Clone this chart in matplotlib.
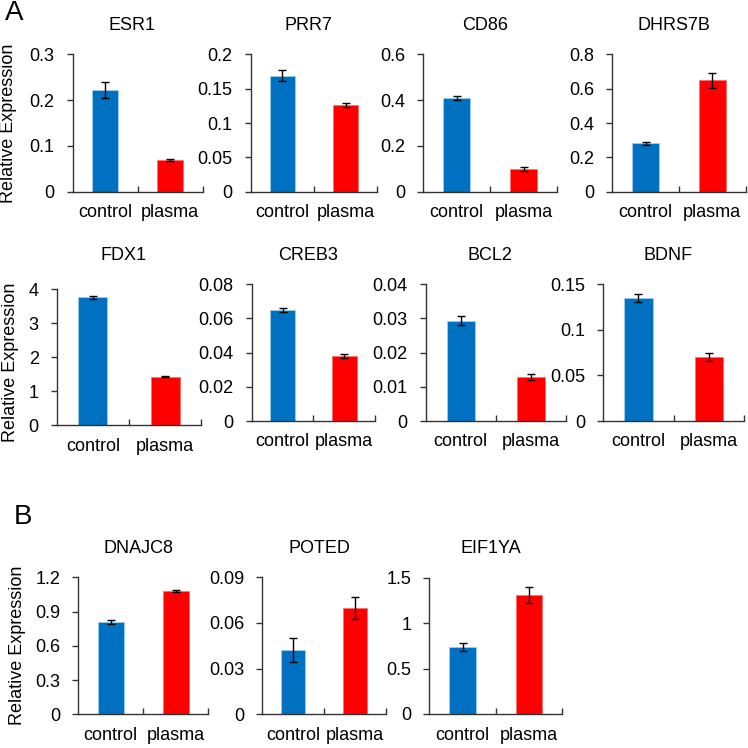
import matplotlib
matplotlib.use("Agg")
import matplotlib.pyplot as plt
import numpy as np

plt.rcParams['font.family'] = ['Liberation Sans', 'DejaVu Sans']

# values
genes = ['ESR1', 'PRR7', 'CD86', 'DHRS7B', 'FDX1', 'CREB3', 'BCL2', 'BDNF',
         'DNAJC8', 'POTED', 'EIF1YA']
groups = ['control', 'plasma']
control = [0.222, 0.169, 0.41, 0.282, 3.755, 0.065, 0.0294, 0.1347, 0.811, 0.0422, 0.737]
plasma = [0.069, 0.1266, 0.099, 0.650, 1.42, 0.038, 0.0129, 0.0703, 1.08, 0.0698, 1.31]
control_err = [0.018, 0.008, 0.008, 0.01, 0.04, 0.001, 0.0014, 0.0042, 0.0175, 0.008, 0.046]
plasma_err = [0.002, 0.003, 0.007, 0.044, 0.02, 0.0013, 0.0008, 0.0042, 0.012, 0.0072, 0.083]
ymax = [0.3, 0.2, 0.6, 0.8, 4, 0.08, 0.04, 0.15, 1.2, 0.09, 1.5]
ystep = [0.1, 0.05, 0.2, 0.2, 1, 0.02, 0.01, 0.05, 0.3, 0.03, 0.5]

W = 748.0
# axes boxes in pixels: left, right, top, bottom (from top of image)
boxes = [
    (72.7, 202.7, 54.3, 191.7), (250.7, 377.3, 54.3, 191.7),
    (423.3, 557.3, 54.3, 191.7), (612.3, 745.7, 54.3, 191.7),
    (56.7, 201.3, 289, 425), (251.7, 375, 284.3, 421),
    (425.7, 565.7, 284.3, 421), (603.3, 744, 284.3, 421),
    (78.3, 208.3, 577.3, 714.3), (262.3, 385.7, 577.3, 714.3),
    (429.3, 562.3, 577.7, 714),
]
title_base = [30, 30, 30, 30, 260, 260, 260, 260, 552.7, 552.7, 552.7]

blue = '#0070C0'
red = '#FF0000'
dark = '#333333'
fs = 13

fig = plt.figure(figsize=(7.48, 7.48), dpi=100)

for i, g in enumerate(genes):
    l, r, t, b = boxes[i]
    ax = fig.add_axes([l / W, 1 - b / W, (r - l) / W, (b - t) / W])
    x = np.arange(2)
    ax.bar(x, [control[i], plasma[i]], width=0.4, color=[blue, red],
           edgecolor=['#9CCFF2', '#FF7070'], linewidth=0.6, zorder=2)
    ax.errorbar(x, [control[i], plasma[i]], yerr=[control_err[i], plasma_err[i]],
                fmt='none', ecolor='black', elinewidth=1, capsize=3, capthick=1, zorder=3)
    ax.set_xlim(-0.5, 1.5)
    ax.set_ylim(0, ymax[i])
    n = int(round(ymax[i] / ystep[i]))
    yt = np.linspace(0, ymax[i], n + 1)
    ax.set_yticks(yt)
    ax.set_yticklabels(['%g' % v for v in yt])
    ax.set_xticks(x)
    ax.set_xticklabels(groups)
    ax.set_xticks([0.5, 1.5], minor=True)
    ax.tick_params(axis='x', which='major', length=0, pad=9, labelsize=fs)
    ax.tick_params(axis='x', which='minor', direction='in', length=4, width=1, color=dark)
    ax.tick_params(axis='y', direction='out', length=4, width=1, color=dark, pad=9, labelsize=fs)
    for s in ['top', 'right']:
        ax.spines[s].set_visible(False)
    for s in ['left', 'bottom']:
        ax.spines[s].set_color(dark)
        ax.spines[s].set_linewidth(1)
    ax.set_title(g, fontsize=fs, x=0.46, pad=(t - title_base[i]) * 0.72)

# y labels on the first column
for yc, xc in [(123, 8.5), (362, 10.5), (645, 18)]:
    fig.text(xc / W, 1 - yc / W, 'Relative Expression', rotation=90,
             ha='center', va='center', fontsize=fs)

fig.text(14 / W, 1 - 13 / W, 'A', fontsize=20, ha='center', va='center')
fig.text(22.5 / W, 1 - 517 / W, 'B', fontsize=20, ha='center', va='center')

fig.savefig('out.png', dpi=100)
